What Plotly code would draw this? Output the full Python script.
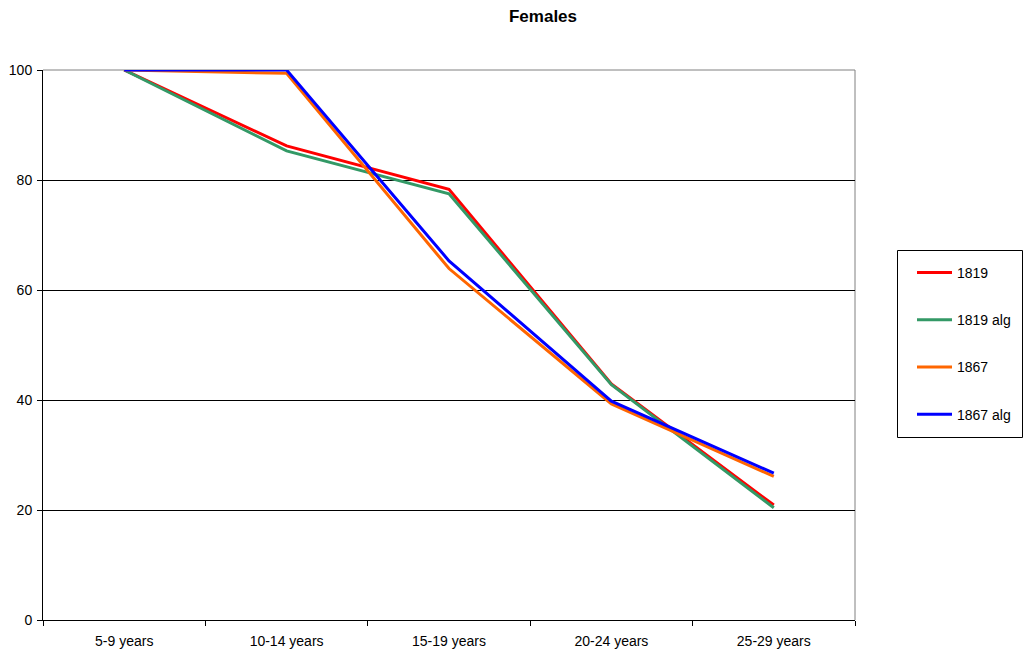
import plotly.graph_objects as go

categories = ["5-9 years", "10-14 years", "15-19 years", "20-24 years", "25-29 years"]
s1819 = [100, 86.2, 78.3, 42.9, 20.9]
s1819_alg = [100, 85.3, 77.5, 42.8, 20.4]
s1867 = [100, 99.4, 63.9, 39.3, 26.1]
s1867_alg = [100, 100, 65.3, 39.8, 26.7]
y_ticks = [0, 20, 40, 60, 80, 100]

series = [
    ("1819", s1819, "#FF0000"),
    ("1819 alg", s1819_alg, "#339966"),
    ("1867", s1867, "#FF6600"),
    ("1867 alg", s1867_alg, "#0000FF"),
]

fig = go.Figure()
for name, vals, color in series:
    fig.add_trace(go.Scatter(
        x=categories, y=vals, name=name, mode="lines",
        line=dict(color=color, width=3), legendgroup=name,
    ))

FAM = "Arial, Liberation Sans, sans-serif"
font = dict(family=FAM, size=14, color="black")

W, H = 1024, 652
L, R, T, B = 43, 169, 70, 32
pw, ph = W - L - R, H - T - B

def px(x):
    return (x - L) / pw

def py(y):
    return (H - B - y) / ph

fig.update_layout(
    width=W, height=H,
    margin=dict(l=L, r=R, t=T, b=B, autoexpand=False),
    paper_bgcolor="white", plot_bgcolor="white",
    font=font,
    title=dict(text="<b>Females</b>", x=543 / W, xanchor="center",
               y=1 - 16 / H, yanchor="middle",
               font=dict(family=FAM, size=17, color="black")),
    xaxis=dict(
        type="category", range=[-0.5, 4.5], showgrid=False, automargin=False,
        showline=True, linecolor="black", linewidth=1,
        ticks="outside", tickson="boundaries", ticklen=5, tickcolor="black",
        tickfont=font, ticklabelstandoff=8,
    ),
    yaxis=dict(
        range=[0, 100], tickvals=y_ticks, showgrid=True, gridcolor="black", gridwidth=1,
        showline=True, linecolor="black", linewidth=1, zeroline=False, automargin=False,
        ticks="outside", ticklen=5, tickcolor="black", tickfont=font,
        ticklabelstandoff=2,
    ),
    legend=dict(
        x=px(912), xanchor="left", y=py(257), yanchor="top",
        borderwidth=0, bgcolor="rgba(0,0,0,0)",
        font=font, tracegroupgap=26, itemwidth=35,
    ),
    shapes=[
        dict(type="line", xref="paper", yref="paper", x0=0, x1=1, y0=1, y1=1,
             line=dict(color="#808080", width=1), layer="between"),
        dict(type="line", xref="paper", yref="paper", x0=1, x1=1, y0=0, y1=1,
             line=dict(color="#808080", width=1), layer="between"),
        dict(type="rect", xref="paper", yref="paper",
             x0=px(897.5), x1=px(1022.5), y0=py(437.5), y1=py(250.5),
             line=dict(color="black", width=1), fillcolor="rgba(0,0,0,0)", layer="below"),
    ],
)

fig.write_html("out.html")
